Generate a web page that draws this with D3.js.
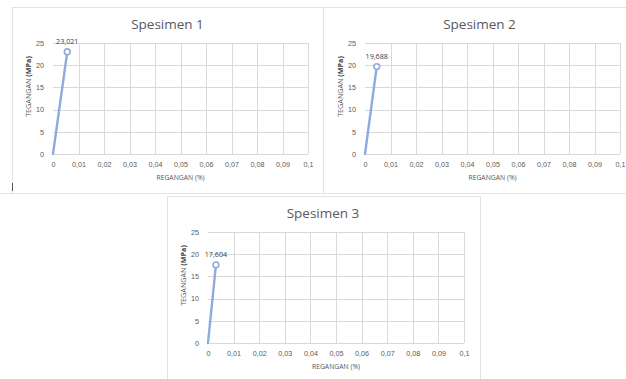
<!DOCTYPE html>
<html><head><meta charset="utf-8">
<script src="https://cdn.jsdelivr.net/npm/d3@7"></script>
<style>
body{margin:0;background:#fff;}
svg{display:block;font-family:"Open Sans","Liberation Sans",sans-serif;}
</style></head>
<body><svg id="c" width="626" height="379"></svg>
<script>
// ---- data ----
const titles = ["Spesimen 1", "Spesimen 2", "Spesimen 3"];
const strain1 = [0, 0.0056];
const stress1 = [0, 23.021];
const strain2 = [0, 0.0046];
const stress2 = [0, 19.688];
const strain3 = [0, 0.0031];
const stress3 = [0, 17.604];
const xTicks = [0, 0.01, 0.02, 0.03, 0.04, 0.05, 0.06, 0.07, 0.08, 0.09, 0.1];
const yTicks = [0, 5, 10, 15, 20, 25];
const xTitle = "REGANGAN (%)";
const yTitleA = "TEGANGAN ";
const yTitleB = "(MPa)";

const loc = d3.formatLocale({decimal: ",", thousands: ".", grouping: [3], currency: ["", ""]});
const fx = loc.format(".2~f");
const fl = loc.format(".3f");

const svg = d3.select("#c");

const panels = [
  {box: [12, 7, 311, 186], plot: [53, 43, 308, 154], xs: strain1, ys: stress1, t: titles[0]},
  {box: [323, 7, 310, 186], plot: [365, 43, 620, 154], xs: strain2, ys: stress2, t: titles[1]},
  {box: [167, 196, 313, 190], plot: [208, 232, 464, 343], xs: strain3, ys: stress3, t: titles[2]}
];

// shared line under the top row
svg.append("line").attr("x1", 0).attr("x2", 626).attr("y1", 193.5).attr("y2", 193.5)
  .attr("stroke", "#e3e3e3").attr("stroke-width", 1);

panels.forEach(p => {
  const g = svg.append("g");
  g.append("rect").attr("x", p.box[0] + 0.5).attr("y", p.box[1] + 0.5)
    .attr("width", p.box[2]).attr("height", p.box[3])
    .attr("fill", "#fff").attr("stroke", "#e3e3e3");

  const [x0, y0, x1, y1] = p.plot;
  const x = d3.scaleLinear().domain([0, 0.1]).range([x0, x1]);
  const y = d3.scaleLinear().domain([0, 25]).range([y1, y0]);

  // gridlines
  g.append("g").selectAll("line").data(yTicks).join("line")
    .attr("x1", x0).attr("x2", x1)
    .attr("y1", d => Math.round(y(d)) + 0.5).attr("y2", d => Math.round(y(d)) + 0.5)
    .attr("stroke", "#d9d9d9").attr("stroke-width", 1);
  g.append("g").selectAll("line").data(xTicks.slice(1)).join("line")
    .attr("y1", y0).attr("y2", y1)
    .attr("x1", d => Math.round(x(d)) + 0.5).attr("x2", d => Math.round(x(d)) + 0.5)
    .attr("stroke", "#d9d9d9").attr("stroke-width", 1);

  // axes (labels only)
  const ax = g.append("g").attr("transform", `translate(0,${y1 + 5})`)
    .call(d3.axisBottom(x).tickValues(xTicks).tickFormat(fx).tickSize(0).tickPadding(3));
  ax.select(".domain").remove();
  ax.selectAll("text").attr("fill", "#595959").attr("font-size", 7.2);

  const ay = g.append("g").attr("transform", `translate(${x0 - 7},0)`)
    .call(d3.axisLeft(y).tickValues(yTicks).tickFormat(d3.format("d")).tickSize(0).tickPadding(2));
  ay.select(".domain").remove();
  ay.selectAll("text").attr("fill", "#595959").attr("font-size", 7.2);

  // title
  g.append("text").attr("x", (x0 + x1) / 2 - 13).attr("y", p.plot[1] - 14)
    .attr("text-anchor", "middle").attr("font-size", 13.5).attr("fill", "#595959")
    .text(p.t);

  // axis titles
  g.append("text").attr("x", (x0 + x1) / 2).attr("y", y1 + 26)
    .attr("text-anchor", "middle").attr("font-size", 6.8).attr("fill", "#595959")
    .text(xTitle);
  const yt = g.append("text")
    .attr("transform", `translate(${x0 - 22},${(y0 + y1) / 2 - 12}) rotate(-90)`)
    .attr("text-anchor", "middle").attr("font-size", 7.2).attr("fill", "#595959");
  yt.append("tspan").text(yTitleA);
  yt.append("tspan").attr("font-weight", "bold").attr("fill", "#404040").text(yTitleB);

  // series
  const pts = p.xs.map((v, i) => [v, p.ys[i]]);
  g.append("path").datum(pts)
    .attr("d", d3.line().x(d => x(d[0])).y(d => y(d[1])))
    .attr("fill", "none").attr("stroke", "#8faadc").attr("stroke-width", 2.4)
    .attr("stroke-linecap", "round");
  const last = pts[pts.length - 1];
  g.append("circle").attr("cx", x(last[0])).attr("cy", y(last[1])).attr("r", 2.9)
    .attr("fill", "#fff").attr("stroke", "#8faadc").attr("stroke-width", 1.6);
  g.append("text").attr("x", x(last[0])).attr("y", y(last[1]) - 8)
    .attr("text-anchor", "middle").attr("font-size", 7.2).attr("fill", "#404040")
    .text(fl(last[1]));
});

// text cursor mark
svg.append("line").attr("x1", 12.5).attr("x2", 12.5).attr("y1", 183).attr("y2", 191)
  .attr("stroke", "#555").attr("stroke-width", 1);
</script></body></html>
